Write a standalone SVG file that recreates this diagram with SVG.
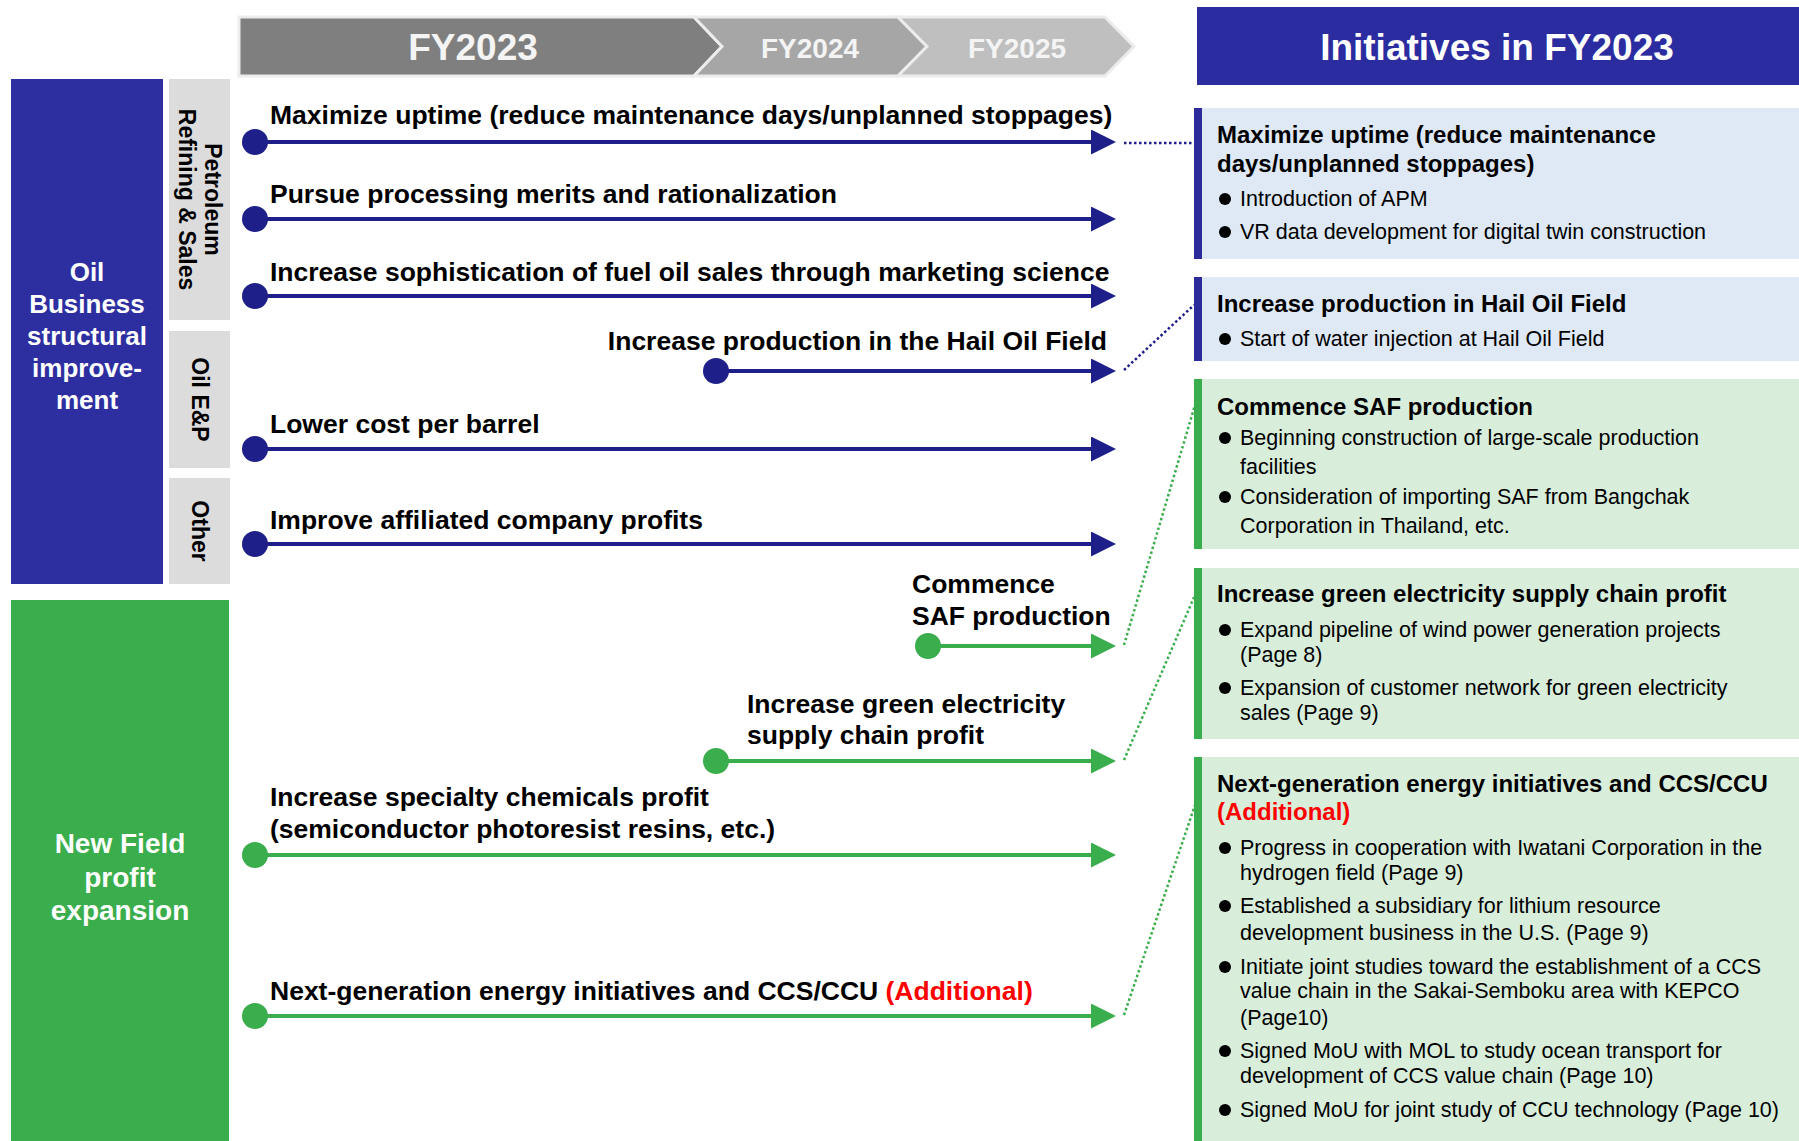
<svg xmlns="http://www.w3.org/2000/svg" width="1799" height="1141" viewBox="0 0 1799 1141">
  <style>
    text { font-family: "Liberation Sans", Arial, sans-serif; }
    .cat { font-weight: bold; fill: #ffffff; text-anchor: middle; }
    .sub { font-weight: bold; font-size: 23px; fill: #000000; text-anchor: middle; }
    .lbl { font-weight: bold; font-size: 26.5px; fill: #000000; }
    .ttl { font-weight: bold; font-size: 24px; fill: #000000; }
    .bul { font-size: 21.5px; fill: #000000; }
    text.red, tspan.red { fill: #ff0000; }
    .navy-ln { stroke: #1f1f8a; stroke-width: 4; fill: none; }
    .green-ln { stroke: #3aad4c; stroke-width: 4; fill: none; }
    .navy-dot { stroke: #1f1f8a; stroke-width: 2.5; stroke-dasharray: 2.5 2.5; fill: none; }
    .green-dot { stroke: #3aad4c; stroke-width: 2.5; stroke-dasharray: 2.5 2.5; fill: none; }
    .yr { font-weight: bold; fill: #f4f4f4; text-anchor: middle; }
    .blue-panel { fill: #dee9f5; }
    .green-panel { fill: #d8eedb; }
  </style>
  <defs>
    <marker id="headNavy" viewBox="0 0 25 25" markerWidth="25" markerHeight="25" refX="5" refY="12.5" markerUnits="userSpaceOnUse" orient="auto">
      <path d="M0,0 L25,12.5 L0,25 z" fill="#1f1f8a"/>
    </marker>
    <marker id="headGreen" viewBox="0 0 25 25" markerWidth="25" markerHeight="25" refX="5" refY="12.5" markerUnits="userSpaceOnUse" orient="auto">
      <path d="M0,0 L25,12.5 L0,25 z" fill="#3aad4c"/>
    </marker>
  </defs>

  <rect width="1799" height="1141" fill="#ffffff"/>

  <!-- fiscal year chevrons -->
  <g id="years">
    <polygon points="239,17 694,17 722,46.5 694,76 239,76" fill="#7f7f7f" stroke="#ececec" stroke-width="3"/>
    <polygon points="694,17 898,17 927,46.5 898,76 694,76 722,46.5" fill="#a6a6a6" stroke="#ececec" stroke-width="3"/>
    <polygon points="898,17 1105,17 1134,46.5 1105,76 898,76 927,46.5" fill="#bfbfbf" stroke="#ececec" stroke-width="3"/>
    <text class="yr" x="473" y="60" font-size="37">FY2023</text>
    <text class="yr" x="810" y="58" font-size="28">FY2024</text>
    <text class="yr" x="1017" y="58" font-size="28">FY2025</text>
  </g>

  <!-- category columns -->
  <g id="cat-oil">
    <rect x="11" y="79" width="152" height="505" fill="#2d2fa1"/>
    <text class="cat" font-size="26" x="87" y="281">Oil</text>
    <text class="cat" font-size="26" x="87" y="313">Business</text>
    <text class="cat" font-size="26" x="87" y="345">structural</text>
    <text class="cat" font-size="26" x="87" y="377">improve-</text>
    <text class="cat" font-size="26" x="87" y="409">ment</text>
  </g>
  <g id="sub-refining">
    <rect x="169" y="79" width="61" height="241" fill="#dcdcdc"/>
    <text class="sub" transform="translate(205,199.5) rotate(90)">Petroleum</text>
    <text class="sub" transform="translate(179,199.5) rotate(90)">Refining &amp; Sales</text>
  </g>
  <g id="sub-ep">
    <rect x="169" y="331" width="61" height="137" fill="#dcdcdc"/>
    <text class="sub" transform="translate(191.5,399.5) rotate(90)">Oil E&amp;P</text>
  </g>
  <g id="sub-other">
    <rect x="169" y="478" width="61" height="106" fill="#dcdcdc"/>
    <text class="sub" transform="translate(191.5,531) rotate(90)">Other</text>
  </g>
  <g id="cat-new">
    <rect x="11" y="600" width="218" height="541" fill="#3aad4c"/>
    <text class="cat" font-size="28" x="120" y="853">New Field</text>
    <text class="cat" font-size="28" x="120" y="887">profit</text>
    <text class="cat" font-size="28" x="120" y="920">expansion</text>
  </g>

  <!-- timeline labels -->
  <g id="item-uptime"><text class="lbl" x="270" y="124">Maximize uptime (reduce maintenance days/unplanned stoppages)</text></g>
  <g id="item-processing"><text class="lbl" x="270" y="203">Pursue processing merits and rationalization</text></g>
  <g id="item-marketing"><text class="lbl" x="270" y="281">Increase sophistication of fuel oil sales through marketing science</text></g>
  <g id="item-hail"><text class="lbl" x="1107" y="350" text-anchor="end">Increase production in the Hail Oil Field</text></g>
  <g id="item-cost"><text class="lbl" x="270" y="433">Lower cost per barrel</text></g>
  <g id="item-affiliates"><text class="lbl" x="270" y="529">Improve affiliated company profits</text></g>
  <g id="item-saf">
    <text class="lbl" x="912" y="593">Commence</text>
    <text class="lbl" x="912" y="625">SAF production</text>
  </g>
  <g id="item-green">
    <text class="lbl" x="747" y="713">Increase green electricity</text>
    <text class="lbl" x="747" y="744">supply chain profit</text>
  </g>
  <g id="item-chem">
    <text class="lbl" x="270" y="806">Increase specialty chemicals profit</text>
    <text class="lbl" x="270" y="838">(semiconductor photoresist resins, etc.)</text>
  </g>
  <g id="item-nextgen"><text class="lbl" x="270" y="1000">Next-generation energy initiatives and CCS/CCU <tspan class="red">(Additional)</tspan></text></g>

  <!-- initiatives panel -->
  <g id="header">
    <rect x="1197" y="7" width="602" height="78" fill="#2a2ca0"/>
    <text x="1497" y="60" font-size="37" font-weight="bold" fill="#ffffff" text-anchor="middle">Initiatives in FY2023</text>
  </g>
  <g id="panel-uptime">
    <rect class="blue-panel" x="1194" y="108" width="605" height="151"/>
    <rect x="1194" y="108" width="8" height="151" fill="#2b2b9c"/>
    <text class="ttl" x="1217" y="143">Maximize uptime (reduce maintenance</text>
    <text class="ttl" x="1217" y="172">days/unplanned stoppages)</text>
    <circle cx="1225" cy="199" r="6"/><text class="bul" x="1240" y="206">Introduction of APM</text>
    <circle cx="1225" cy="232" r="6"/><text class="bul" x="1240" y="239">VR data development for digital twin construction</text>
  </g>
  <g id="panel-hail">
    <rect class="blue-panel" x="1194" y="277" width="605" height="84"/>
    <rect x="1194" y="277" width="8" height="84" fill="#2b2b9c"/>
    <text class="ttl" x="1217" y="312">Increase production in Hail Oil Field</text>
    <circle cx="1225" cy="339" r="6"/><text class="bul" x="1240" y="346">Start of water injection at Hail Oil Field</text>
  </g>
  <g id="panel-saf">
    <rect class="green-panel" x="1194" y="379" width="605" height="170"/>
    <rect x="1194" y="379" width="8" height="170" fill="#3aad4c"/>
    <text class="ttl" x="1217" y="415">Commence SAF production</text>
    <circle cx="1225" cy="438" r="6"/><text class="bul" x="1240" y="445">Beginning construction of large-scale production</text>
    <text class="bul" x="1240" y="474">facilities</text>
    <circle cx="1225" cy="497" r="6"/><text class="bul" x="1240" y="504">Consideration of importing SAF from Bangchak</text>
    <text class="bul" x="1240" y="533">Corporation in Thailand, etc.</text>
  </g>
  <g id="panel-green">
    <rect class="green-panel" x="1194" y="568" width="605" height="171"/>
    <rect x="1194" y="568" width="8" height="171" fill="#3aad4c"/>
    <text class="ttl" x="1217" y="602">Increase green electricity supply chain profit</text>
    <circle cx="1225" cy="630" r="6"/><text class="bul" x="1240" y="637">Expand pipeline of wind power generation projects</text>
    <text class="bul" x="1240" y="662">(Page 8)</text>
    <circle cx="1225" cy="688" r="6"/><text class="bul" x="1240" y="695">Expansion of customer network for green electricity</text>
    <text class="bul" x="1240" y="720">sales (Page 9)</text>
  </g>
  <g id="panel-nextgen">
    <rect class="green-panel" x="1194" y="757" width="605" height="384"/>
    <rect x="1194" y="757" width="8" height="384" fill="#3aad4c"/>
    <text class="ttl" x="1217" y="792">Next-generation energy initiatives and CCS/CCU</text>
    <text class="ttl red" x="1217" y="820">(Additional)</text>
    <circle cx="1225" cy="848" r="6"/><text class="bul" x="1240" y="855">Progress in cooperation with Iwatani Corporation in the</text>
    <text class="bul" x="1240" y="880">hydrogen field (Page 9)</text>
    <circle cx="1225" cy="906" r="6"/><text class="bul" x="1240" y="913">Established a subsidiary for lithium resource</text>
    <text class="bul" x="1240" y="940">development business in the U.S. (Page 9)</text>
    <circle cx="1225" cy="967" r="6"/><text class="bul" x="1240" y="974">Initiate joint studies toward the establishment of a CCS</text>
    <text class="bul" x="1240" y="998">value chain in the Sakai-Semboku area with KEPCO</text>
    <text class="bul" x="1240" y="1025">(Page10)</text>
    <circle cx="1225" cy="1051" r="6"/><text class="bul" x="1240" y="1058">Signed MoU with MOL to study ocean transport for</text>
    <text class="bul" x="1240" y="1083">development of CCS value chain (Page 10)</text>
    <circle cx="1225" cy="1110" r="6"/><text class="bul" x="1240" y="1117">Signed MoU for joint study of CCU technology (Page 10)</text>
  </g>

  <!-- timeline arrows and links to the panels -->
  <g id="connectors">
    <g fill="#1f1f8a">
      <circle cx="255" cy="142" r="13"/>
      <circle cx="255" cy="219" r="13"/>
      <circle cx="255" cy="296" r="13"/>
      <circle cx="716" cy="371" r="13"/>
      <circle cx="255" cy="449" r="13"/>
      <circle cx="255" cy="544" r="13"/>
    </g>
    <path class="navy-ln" d="M255,142 H1096" marker-end="url(#headNavy)"/>
    <path class="navy-ln" d="M255,219 H1096" marker-end="url(#headNavy)"/>
    <path class="navy-ln" d="M255,296 H1096" marker-end="url(#headNavy)"/>
    <path class="navy-ln" d="M716,371 H1096" marker-end="url(#headNavy)"/>
    <path class="navy-ln" d="M255,449 H1096" marker-end="url(#headNavy)"/>
    <path class="navy-ln" d="M255,544 H1096" marker-end="url(#headNavy)"/>
    <g fill="#3aad4c">
      <circle cx="928" cy="646" r="13"/>
      <circle cx="716" cy="761" r="13"/>
      <circle cx="255" cy="855" r="13"/>
      <circle cx="255" cy="1016" r="13"/>
    </g>
    <path class="green-ln" d="M928,646 H1096" marker-end="url(#headGreen)"/>
    <path class="green-ln" d="M716,761 H1096" marker-end="url(#headGreen)"/>
    <path class="green-ln" d="M255,855 H1096" marker-end="url(#headGreen)"/>
    <path class="green-ln" d="M255,1016 H1096" marker-end="url(#headGreen)"/>
    <path class="navy-dot" d="M1124,143 H1194"/>
    <path class="navy-dot" d="M1124,370 L1194,305"/>
    <path class="green-dot" d="M1124,645 L1195,405"/>
    <path class="green-dot" d="M1124,760 L1195,595"/>
    <path class="green-dot" d="M1124,1015 L1195,805"/>
  </g>
</svg>
